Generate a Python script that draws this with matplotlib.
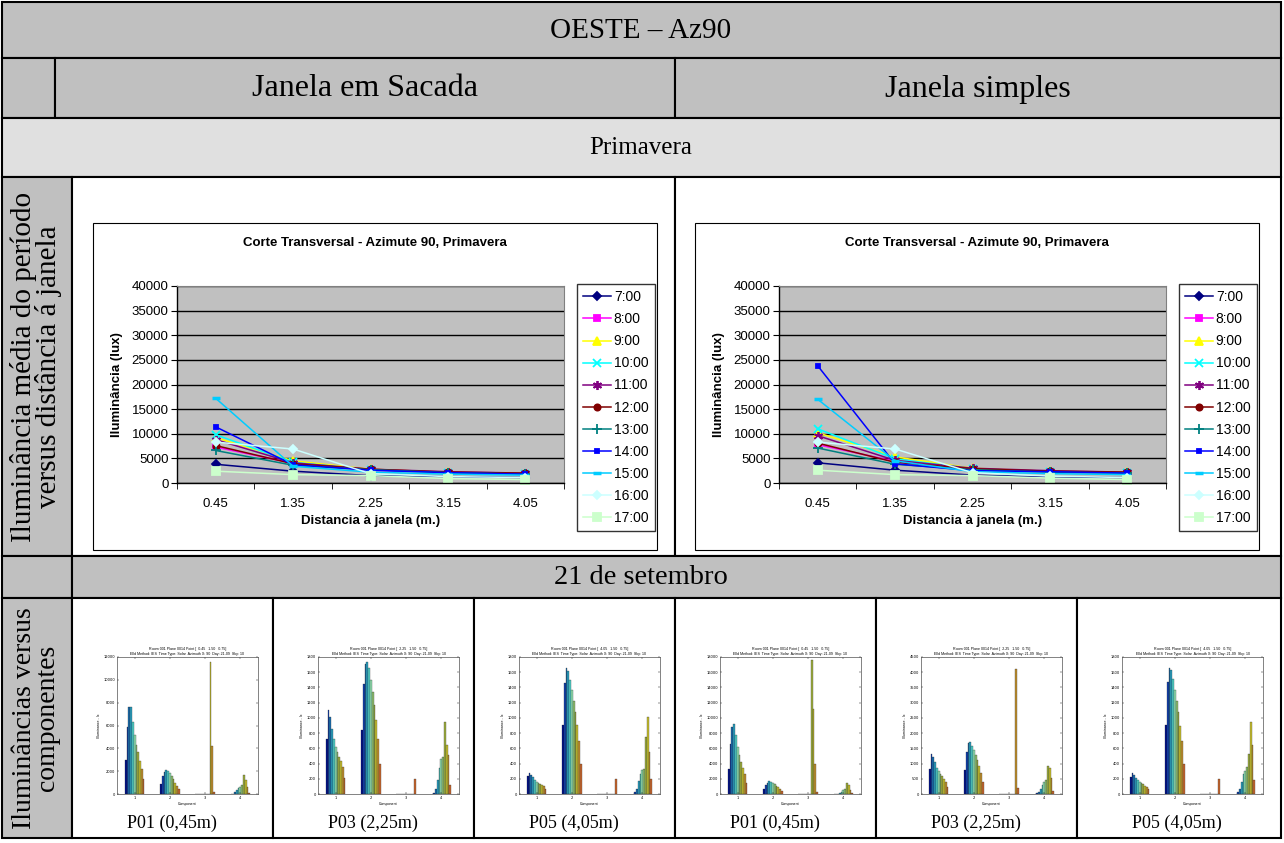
import numpy as np
import matplotlib
matplotlib.use('Agg')
import matplotlib.pyplot as plt
from matplotlib.patches import Rectangle

W, H = 1284, 843
SERIF = 'Liberation Serif'
SANS = 'Liberation Sans'
GRAY = '#c0c0c0'
LIGHT = '#e0e0e0'

# ---- data -----------------------------------------------------------
distances = ['0.45', '1.35', '2.25', '3.15', '4.05']
hours = ['7:00', '8:00', '9:00', '10:00', '11:00', '12:00',
         '13:00', '14:00', '15:00', '16:00', '17:00']

# average illuminance (lux) per hour at each distance - janela em sacada
sacada_lux = [
    [3800, 2400, 1500, 1300, 1100],
    [7300, 4000, 2600, 2100, 1800],
    [9200, 4500, 2800, 2200, 1900],
    [9800, 4200, 2700, 2100, 1800],
    [8800, 4100, 2800, 2300, 2000],
    [7600, 3900, 2800, 2200, 2000],
    [6600, 3600, 2700, 2100, 1800],
    [11400, 3700, 2600, 2100, 1800],
    [17200, 3400, 2200, 1800, 1600],
    [8300, 6900, 1900, 1300, 1100],
    [2400, 1700, 1500, 900, 700],
]
# janela simples
simples_lux = [
    [4100, 2600, 1600, 1200, 1100],
    [7800, 4400, 2700, 2200, 2000],
    [10200, 5300, 3000, 2400, 2200],
    [11000, 4900, 2900, 2300, 2000],
    [9600, 4600, 3000, 2500, 2200],
    [8100, 4200, 2900, 2400, 2200],
    [7100, 3800, 2700, 2200, 2000],
    [23800, 3900, 2500, 2300, 2000],
    [17000, 4500, 2300, 1900, 1700],
    [8300, 6900, 2100, 1400, 1100],
    [2600, 1700, 1500, 1000, 700],
]

# illuminance per component (4 groups x 11 hours)
sac_p01 = [[3000, 5900, 7650, 7600, 6300, 5200, 4300, 3700, 2900, 2200, 1300],
           [850, 1550, 1950, 2100, 2000, 1800, 1600, 1300, 1000, 700, 450],
           [0, 0, 0, 0, 0, 0, 0, 0, 11600, 4200, 200],
           [0, 30, 150, 350, 500, 600, 800, 1700, 1200, 600, 100]]
sac_p03 = [[720, 1100, 1010, 860, 720, 620, 550, 490, 430, 350, 210],
           [840, 1450, 1710, 1740, 1650, 1500, 1340, 1170, 970, 720, 400],
           [0, 0, 0, 0, 0, 0, 0, 0, 0, 0, 200],
           [0, 10, 70, 190, 340, 460, 480, 940, 650, 510, 120]]
sac_p05 = [[230, 280, 250, 220, 180, 160, 150, 130, 120, 100, 60],
           [910, 1460, 1650, 1620, 1500, 1360, 1220, 1080, 910, 690, 390],
           [0, 0, 0, 0, 0, 0, 0, 0, 0, 0, 200],
           [0, 20, 70, 170, 260, 320, 330, 750, 1010, 550, 200]]
sim_p01 = [[3300, 6600, 8800, 9200, 7800, 6200, 5100, 4200, 3400, 2600, 1500],
           [700, 1200, 1500, 1650, 1600, 1450, 1300, 1100, 900, 600, 350],
           [0, 0, 0, 0, 0, 0, 0, 17600, 11200, 4000, 200],
           [0, 0, 50, 150, 300, 500, 700, 1400, 1200, 500, 100]]
sim_p03 = [[820, 1310, 1220, 1040, 860, 760, 650, 580, 500, 410, 230],
           [800, 1380, 1660, 1700, 1590, 1460, 1290, 1130, 920, 690, 390],
           [0, 0, 0, 0, 0, 0, 0, 0, 0, 4120, 200],
           [0, 20, 70, 180, 300, 380, 470, 910, 860, 510, 100]]
sim_p05 = [[220, 270, 250, 210, 180, 160, 150, 130, 110, 90, 60],
           [910, 1470, 1660, 1630, 1510, 1370, 1220, 1080, 900, 690, 390],
           [0, 0, 0, 0, 0, 0, 0, 0, 0, 0, 200],
           [0, 20, 60, 160, 260, 300, 350, 520, 940, 640, 180]]

points = ['0.45', '2.25', '4.05']
captions = ['P01 (0,45m)', 'P03 (2,25m)', 'P05 (4,05m)']

# ---- styles ---------------------------------------------------------
line_styles = [('#000080', 'D', 4.5), ('#ff00ff', 's', 4.5), ('#ffff00', '^', 5.5),
               ('#00ffff', 'x', 5.5), ('#800080', (6, 2, 0), 6.5), ('#800000', 'o', 4.5),
               ('#008080', '+', 6.5), ('#0000ff', 's', 2.5), ('#00ccff', '_', 6),
               ('#ccffff', 'D', 4.5), ('#ccffcc', 's', 5.5)]
bar_colors = ['#00108a', '#1040b0', '#1a6fb0', '#2aa0c0', '#50d0c8', '#90e0b0',
              '#90c070', '#a0b040', '#c8c030', '#c09030', '#c86830']


def px(x0, y0, x1, y1):
    return [x0 / W, 1 - y1 / H, (x1 - x0) / W, (y1 - y0) / H]


fig = plt.figure(figsize=(12.84, 8.43), dpi=100)
bg = fig.add_axes([0, 0, 1, 1])
bg.set_xlim(0, W)
bg.set_ylim(H, 0)
bg.axis('off')


def cell(x0, y0, x1, y1, fc):
    bg.add_patch(Rectangle((x0, y0), x1 - x0, y1 - y0, facecolor=fc,
                           edgecolor='black', linewidth=1.5))


cell(2, 2, 1281, 58, GRAY)
cell(2, 58, 55, 118, GRAY)
cell(55, 58, 675, 118, GRAY)
cell(675, 58, 1281, 118, GRAY)
cell(2, 118, 1281, 177, LIGHT)
cell(2, 177, 72, 556, GRAY)
cell(72, 177, 675, 556, 'white')
cell(675, 177, 1281, 556, 'white')
cell(2, 556, 72, 598, GRAY)
cell(72, 556, 1281, 598, GRAY)
cell(2, 598, 72, 838, GRAY)
cols = [72, 273, 474, 675, 876, 1077, 1281]
for a, b in zip(cols[:-1], cols[1:]):
    cell(a, 598, b, 838, 'white')

bg.text(641, 31, 'OESTE – Az90', ha='center', va='center', fontsize=21, family=SERIF)
bg.text(365, 89, 'Janela em Sacada', ha='center', va='center', fontsize=23, family=SERIF)
bg.text(978, 89, 'Janela simples', ha='center', va='center', fontsize=23, family=SERIF)
bg.text(641, 148, 'Primavera', ha='center', va='center', fontsize=18, family=SERIF)
bg.text(641, 578, '21 de setembro', ha='center', va='center', fontsize=20.5, family=SERIF)
bg.text(36, 367, 'Iluminância média do período\nversus distância á janela', rotation=90,
        ha='center', va='center', fontsize=21, family=SERIF, linespacing=0.9)
bg.text(36, 718, 'Iluminâncias versus\ncomponentes', rotation=90,
        ha='center', va='center', fontsize=20, family=SERIF, linespacing=0.9)


def line_chart(fx, lux):
    bg.add_patch(Rectangle((fx, 223), 564, 327, facecolor='white',
                           edgecolor='black', linewidth=0.8, zorder=2))
    ax = fig.add_axes(px(fx + 84, 286, fx + 471, 483))
    ax.set_facecolor(GRAY)
    x = np.arange(len(distances))
    handles = []
    for vals, (c, m, ms), lab in zip(lux, line_styles, hours):
        mew = 2.5 if m == '_' else 1.3
        ln, = ax.plot(x, vals, color=c, marker=m, markersize=ms, markeredgewidth=mew,
                      linewidth=1.1, label=lab, clip_on=False)
        handles.append(ln)
    ax.set_xlim(-0.5, 4.5)
    ax.set_ylim(0, 40000)
    ax.set_yticks(np.arange(0, 40001, 5000))
    ax.set_xticks(x)
    ax.set_xticklabels(distances)
    ax.set_xticks(np.arange(-0.5, 4.6, 1), minor=True)
    ax.tick_params(axis='x', which='major', length=0, pad=11, labelsize=9.5)
    ax.tick_params(axis='x', which='minor', length=4, direction='out')
    ax.tick_params(axis='y', length=4, direction='out', labelsize=9.5, pad=2)
    for lbl in ax.get_xticklabels() + ax.get_yticklabels():
        lbl.set_family(SANS)
    ax.yaxis.grid(True, color='black', linewidth=1)
    ax.set_axisbelow(True)
    for s in ['top', 'right']:
        ax.spines[s].set_color('#808080')
    for s in ['left', 'bottom']:
        ax.spines[s].set_linewidth(1)
    bg.text(fx + 282, 243, 'Corte Transversal - Azimute 90, Primavera', ha='center',
            va='center', fontsize=9.5, fontweight='bold', family=SANS, zorder=3)
    bg.text(fx + 24, 385, 'Iluminância (lux)', rotation=90, ha='center', va='center',
            fontsize=9.5, fontweight='bold', family=SANS, zorder=3)
    bg.text(fx + 278, 521, 'Distancia à janela (m.)', ha='center', va='center',
            fontsize=9.5, fontweight='bold', family=SANS, zorder=3)
    leg = fig.legend(handles=handles, loc='upper left',
                     bbox_to_anchor=((fx + 484) / W, 1 - 284 / H),
                     prop={'family': SANS, 'size': 10}, frameon=True, fancybox=False,
                     edgecolor='black', labelspacing=0.58, handlelength=2.0,
                     handletextpad=0.2, borderpad=0.45, borderaxespad=0)
    leg.get_frame().set_linewidth(1)


line_chart(93, sacada_lux)
line_chart(695, simples_lux)


def bar_chart(cx, data, ymax, ystep, point, caption):
    ax = fig.add_axes(px(cx + 45, 657, cx + 186, 794))
    groups = np.arange(1, 5)
    vals = np.array(data)
    for i in range(len(hours)):
        ax.bar(groups + (i - 5) * 0.05, vals[:, i], width=0.05, color=bar_colors[i],
               edgecolor='#202020', linewidth=0.2)
    ax.set_xlim(0.5, 4.5)
    ax.set_ylim(0, ymax)
    ax.set_xticks(groups)
    ax.set_yticks(np.arange(0, ymax + 1, ystep))
    ax.tick_params(direction='in', labelsize=2.6, length=1.5, width=0.3, pad=1.5,
                   top=True, right=True)
    for s in ax.spines.values():
        s.set_linewidth(0.5)
        s.set_color('#505050')
    ax.set_title('Room 001 Plane 0014 Point [  %s   1.50   0.75]\n'
                 'Elld Method: IES  Time Type: Solar  Azimuth X: 90  Day: 21-09  Sky: 10' % point,
                 fontsize=2.6, pad=1.5, family=SANS)
    ax.set_xlabel('Component', fontsize=2.6, labelpad=1.5, family=SANS)
    ax.set_ylabel('Illuminance - lx', fontsize=2.6, labelpad=1.5, family=SANS)
    bg.text(cx + 100, 823, caption, ha='center', va='center', fontsize=13, family=SERIF)


bar_sets = [(sac_p01, 12000, 2000), (sac_p03, 1800, 200), (sac_p05, 1800, 200),
            (sim_p01, 18000, 2000), (sim_p03, 4500, 500), (sim_p05, 1800, 200)]
for k, (d, ymax, step) in enumerate(bar_sets):
    bar_chart(cols[k], d, ymax, step, points[k % 3], captions[k % 3])

fig.savefig('out.png', dpi=100)
